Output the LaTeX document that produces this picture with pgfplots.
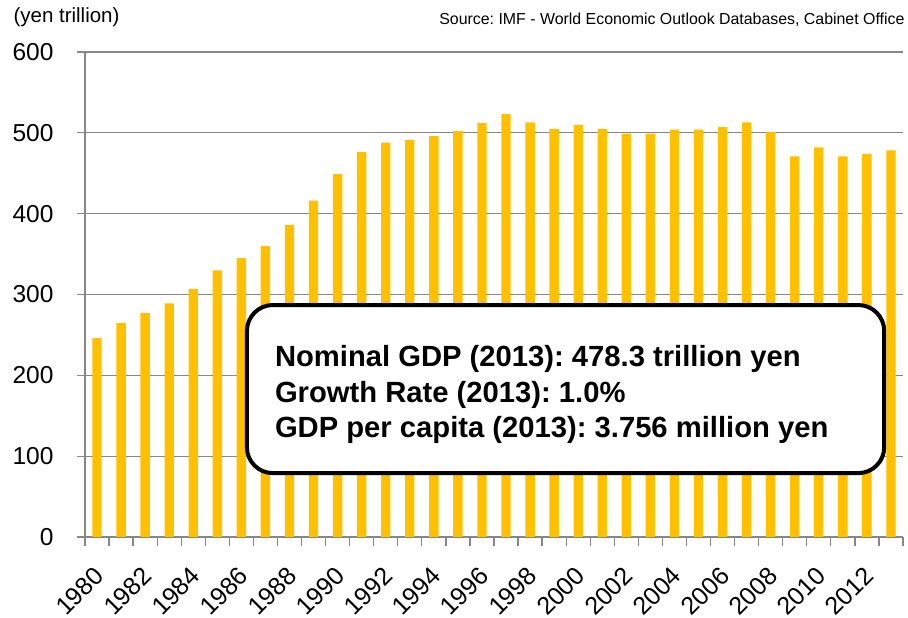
\documentclass[border=0pt]{standalone}
\usepackage{pgfplots}
\pgfplotsset{compat=1.18}
\usepackage{fontspec}
\setmainfont{Liberation Sans}
\frenchspacing
\definecolor{bar}{HTML}{FFC000}
\definecolor{axgray}{HTML}{868686}
\begin{document}
\begin{tikzpicture}
\begin{axis}[
  at={(0pt,0pt)}, anchor=south west,
  scale only axis, width=818pt, height=485pt,
  xmin=-0.5, xmax=33.5, ymin=0, ymax=600,
  axis x line*=bottom, axis y line*=left,
  axis line style={axgray, line width=1.3pt},
  ytick={0,100,...,600},
  ymajorgrids, grid style={axgray, line width=1.3pt},
  ytick style={axgray, line width=1.3pt},
  major tick length=8pt,
  ytick align=outside,
  xtick={0,2,...,32},
  xticklabels={1980,1982,1984,1986,1988,1990,1992,1994,1996,1998,2000,2002,2004,2006,2008,2010,2012},
  major x tick style={draw=none},
  minor xtick={-0.5,0.5,...,33.5},
  minor x tick style={axgray, line width=1.3pt},
  minor tick length=9pt,
  xtick align=outside,
  /pgf/number format/assume math mode=true,
  yticklabel style={font=\fontsize{24.5}{26}\selectfont, xshift=-20pt},
  xticklabel style={font=\fontsize{25}{28}\selectfont, inner sep=0pt, xshift=-4pt, yshift=-20pt, rotate=45, anchor=north east},
  ybar, bar width=0.39, bar shift=0pt,
  clip=false,
]
\addplot[fill=bar, draw=none] coordinates {
(0,246) (1,265) (2,277) (3,289) (4,307) (5,330) (6,345) (7,360) (8,386) (9,416)
(10,449) (11,476) (12,488) (13,491) (14,496) (15,502) (16,512) (17,523) (18,513) (19,505)
(20,510) (21,505) (22,499) (23,499) (24,504) (25,504) (26,507) (27,513) (28,501) (29,471)
(30,482) (31,471) (32,474) (33,478.3)
};
\draw[line width=4pt, rounded corners=26pt, fill=white] (axis cs:6.23,287) rectangle (axis cs:32.72,79);
\node[anchor=west, align=left, inner sep=0pt, font=\fontsize{29.2}{35.5}\selectfont\bfseries] at (axis cs:7.39,176)
 {Nominal GDP (2013): 478.3 trillion yen\\Growth Rate (2013): 1.0\%\\GDP per capita (2013): 3.756 million yen};
\end{axis}
\node[anchor=west, font=\fontsize{20.5}{24}\selectfont] at (-75pt,520pt) {(yen trillion)};
\node[anchor=east, font=\fontsize{15.9}{18}\selectfont] at (823pt,517pt) {Source: IMF - World Economic Outlook Databases, Cabinet Office};
\path[use as bounding box] (-85pt,-74pt) rectangle (823pt,537pt);
\end{tikzpicture}
\end{document}
